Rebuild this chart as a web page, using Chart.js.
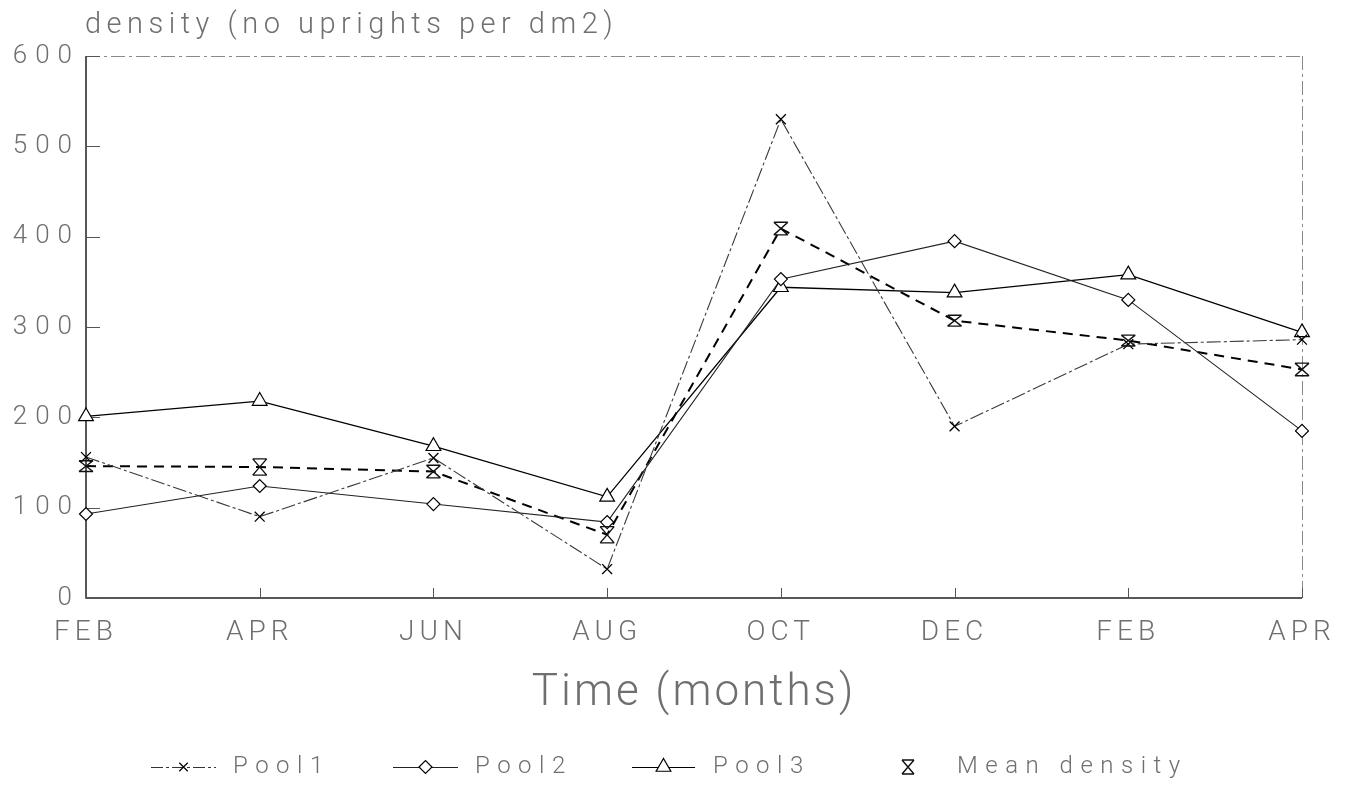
<!DOCTYPE html>
<html>
<head>
<meta charset="utf-8">
<title>Upright density</title>
<script src="https://cdn.jsdelivr.net/npm/chart.js@4.4.1/dist/chart.umd.min.js"></script>
<style>
  html, body { margin: 0; padding: 0; background: #fff; }
  #wrap { width: 1359px; height: 791px; position: relative; }
</style>
</head>
<body>
<div id="wrap"><canvas id="c" width="1359" height="791"></canvas></div>
<script>
// Sampling months (two-monthly, FEB to the following APR)
const months = ['FEB', 'APR', 'JUN', 'AUG', 'OCT', 'DEC', 'FEB', 'APR'];

// Density of uprights per dm2 in each pool
const pool1 = [156, 90, 155, 32, 530, 190, 281, 286];
const pool2 = [93, 124, 104, 84, 353, 395, 330, 185];
const pool3 = [201, 218, 168, 112, 344, 338, 358, 294];

// Mean density with its error (half-length of the bar)
const meanDensity = [146, 145, 140, 70, 409, 307, 285, 253];
const meanError = [6, 9, 7, 9, 7, 6, 6, 7];

const yTicks = [0, 100, 200, 300, 400, 500, 600];
const seriesNames = ['Pool1', 'Pool2', 'Pool3', 'Mean density'];
const titleText = 'density (no uprights per dm2)';
const xTitleText = 'Time (months)';

const TEXT = '#6f6f6f';
const FONT = "Roboto, 'Liberation Sans', Arial, sans-serif";
const WEIGHT = 300;

function withSpacing(ctx, ls, fn) {
  ctx.save();
  ctx.letterSpacing = ls;
  fn();
  ctx.restore();
}

// Hourglass marker with caps at mean +/- error
function drawHourglass(ctx, px, top, bottom, w) {
  ctx.beginPath();
  ctx.moveTo(px - w, top); ctx.lineTo(px + w, top);
  ctx.moveTo(px - w, bottom); ctx.lineTo(px + w, bottom);
  ctx.moveTo(px - w, top); ctx.lineTo(px + w, bottom);
  ctx.moveTo(px + w, top); ctx.lineTo(px - w, bottom);
  ctx.stroke();
}

// Wide letter spacing for axis labels and titles
const spacingPlugin = {
  id: 'spacing',
  beforeDraw(chart) {
    const conf = { x: { ticks: '5px', title: '3px' }, y: { ticks: '8px', title: '0px' } };
    for (const id of Object.keys(conf)) {
      const s = chart.scales[id];
      if (!s || s.__spaced) continue;
      const dl = s.drawLabels, dt = s.drawTitle;
      s.drawLabels = function (a) { withSpacing(this.ctx, conf[id].ticks, () => dl.call(this, a)); };
      s.drawTitle = function () { withSpacing(this.ctx, conf[id].title, () => dt.call(this)); };
      s.__spaced = true;
    }
  }
};

const framePlugin = {
  id: 'frame',
  beforeDatasetsDraw(chart) {
    const { ctx, chartArea: a, scales: { x, y } } = chart;
    ctx.save();
    // light broken top and right edges
    ctx.strokeStyle = '#8a8a8a';
    ctx.lineWidth = 1;
    ctx.setLineDash([14, 4, 3, 4]);
    ctx.beginPath();
    ctx.moveTo(a.left, a.top + 0.5); ctx.lineTo(a.right, a.top + 0.5);
    ctx.moveTo(a.right + 0.5, a.top); ctx.lineTo(a.right + 0.5, a.bottom);
    ctx.stroke();
    // solid left and bottom axes
    ctx.setLineDash([]);
    ctx.strokeStyle = '#222';
    ctx.lineWidth = 1.5;
    ctx.beginPath();
    ctx.moveTo(a.left, a.top); ctx.lineTo(a.left, a.bottom); ctx.lineTo(a.right, a.bottom);
    ctx.stroke();
    // inward tick marks
    ctx.lineWidth = 1;
    ctx.strokeStyle = '#555';
    ctx.beginPath();
    months.forEach((m, i) => {
      const px = Math.round(x.getPixelForValue(i)) + 0.5;
      ctx.moveTo(px, a.bottom); ctx.lineTo(px, a.bottom - 10);
    });
    yTicks.forEach(v => {
      const py = Math.round(y.getPixelForValue(v)) + 0.5;
      ctx.moveTo(a.left, py); ctx.lineTo(a.left + 14, py);
    });
    ctx.stroke();
    ctx.restore();
  },
  afterDatasetsDraw(chart) {
    const { ctx, scales: { x, y } } = chart;
    ctx.save();
    ctx.strokeStyle = '#111';
    ctx.lineWidth = 1.4;
    meanDensity.forEach((v, i) => {
      const px = x.getPixelForValue(i);
      const top = y.getPixelForValue(v + meanError[i]);
      const bottom = y.getPixelForValue(v - meanError[i]);
      drawHourglass(ctx, px, top, bottom, 7);
    });
    ctx.restore();
  },
  afterDraw(chart) {
    const { ctx } = chart;
    ctx.save();
    // chart title, top left
    ctx.fillStyle = TEXT;
    ctx.font = WEIGHT + ' 29px ' + FONT;
    ctx.textBaseline = 'alphabetic';
    ctx.textAlign = 'left';
    ctx.letterSpacing = '5.5px';
    ctx.fillText(titleText, 85, 33);

    // legend row
    const ly = 767;
    const items = [
      { x0: 151, x1: 216, style: 'crossRot', r: 6, dash: [12, 3, 3, 3], color: '#333', text: 233 },
      { x0: 393, x1: 458, style: 'rectRot', r: 6.5, dash: [], color: '#222', text: 475 },
      { x0: 632, x1: 695, style: 'triangle', r: 8.5, dash: [], color: '#000', text: 713 }
    ];
    items.forEach((it, k) => {
      ctx.strokeStyle = it.color;
      ctx.lineWidth = 1.2;
      ctx.setLineDash(it.dash);
      ctx.beginPath();
      ctx.moveTo(it.x0, ly + 0.5); ctx.lineTo(it.x1, ly + 0.5);
      ctx.stroke();
      ctx.setLineDash([]);
      ctx.fillStyle = '#fff';
      ctx.strokeStyle = '#000';
      Chart.helpers.drawPoint(ctx, { pointStyle: it.style, radius: it.r, borderWidth: 1.2, rotation: 0 },
        (it.x0 + it.x1) / 2, ly);
      ctx.fillStyle = TEXT;
      ctx.font = WEIGHT + ' 24px ' + FONT;
      ctx.letterSpacing = '7.5px';
      ctx.textBaseline = 'middle';
      ctx.fillText(seriesNames[k], it.text, ly);
      ctx.letterSpacing = '0px';
    });
    ctx.strokeStyle = '#111';
    ctx.lineWidth = 1.4;
    drawHourglass(ctx, 908, ly - 7, ly + 7, 6);
    ctx.fillStyle = TEXT;
    ctx.font = WEIGHT + ' 24px ' + FONT;
    ctx.letterSpacing = '7.5px';
    ctx.textBaseline = 'middle';
    ctx.fillText(seriesNames[3], 957, ly);
    ctx.restore();
  }
};

new Chart(document.getElementById('c'), {
  type: 'line',
  data: {
    labels: months,
    datasets: [
      {
        label: seriesNames[0], data: pool1,
        borderColor: '#3a3a3a', borderWidth: 1.1, borderDash: [14, 3, 3, 3],
        pointStyle: 'crossRot', pointRadius: 7, pointBorderWidth: 1.3,
        pointBorderColor: '#000', pointBackgroundColor: '#fff', tension: 0
      },
      {
        label: seriesNames[1], data: pool2,
        borderColor: '#222', borderWidth: 1.1,
        pointStyle: 'rectRot', pointRadius: 6.5, pointBorderWidth: 1.2,
        pointBorderColor: '#000', pointBackgroundColor: '#fff', tension: 0
      },
      {
        label: seriesNames[2], data: pool3,
        borderColor: '#000', borderWidth: 1.3,
        pointStyle: 'triangle', pointRadius: 8.5, pointBorderWidth: 1.2,
        pointBorderColor: '#000', pointBackgroundColor: '#fff', tension: 0
      },
      {
        label: seriesNames[3], data: meanDensity,
        borderColor: '#000', borderWidth: 2, borderDash: [10, 7],
        pointRadius: 0, tension: 0
      }
    ]
  },
  options: {
    responsive: false,
    animation: false,
    devicePixelRatio: 1,
    layout: { padding: { top: 56, right: 57, bottom: 40, left: 0 } },
    plugins: {
      legend: { display: false },
      title: { display: false },
      tooltip: { enabled: false }
    },
    scales: {
      x: {
        type: 'category',
        offset: false,
        grid: { display: false, drawTicks: false },
        border: { display: false },
        ticks: {
          color: TEXT, padding: 18, maxRotation: 0, autoSkip: false,
          font: { family: FONT, size: 28, weight: WEIGHT }
        },
        title: {
          display: true, text: xTitleText, color: TEXT,
          font: { family: FONT, size: 44, weight: WEIGHT },
          padding: { top: 0, bottom: 31 }
        },
        afterFit(scale) { scale.height = 153; }
      },
      y: {
        min: 0, max: 600,
        grid: { display: false, drawTicks: false },
        border: { display: false },
        afterBuildTicks(scale) { scale.ticks = yTicks.map(v => ({ value: v })); },
        ticks: {
          color: TEXT, padding: 6,
          font: { family: FONT, size: 26, weight: WEIGHT }
        },
        afterFit(scale) { scale.width = 86; }
      }
    }
  },
  plugins: [spacingPlugin, framePlugin]
});
</script>
</body>
</html>
